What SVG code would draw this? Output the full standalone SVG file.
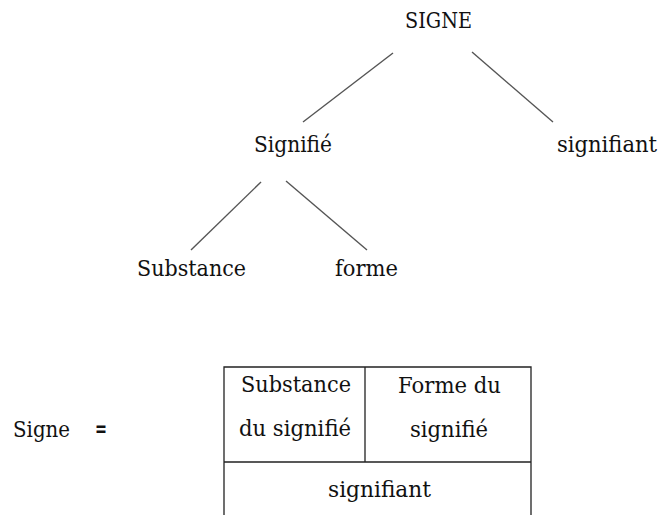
<svg xmlns="http://www.w3.org/2000/svg" width="660" height="515" viewBox="0 0 660 515">
<style>
text{font-family:"DejaVu Serif","Liberation Serif",serif;font-size:22px;fill:#111}
.eq{font-family:"DejaVu Sans","Liberation Sans",sans-serif;font-weight:bold}
.edge{stroke:#555;stroke-width:1.4;fill:none}
.tbl{stroke:#222;stroke-width:1.3;fill:none}
</style>
<rect width="660" height="515" fill="#fff"/>
<g id="connectors">
<line class="edge" x1="393" y1="53" x2="303" y2="122"/>
<line class="edge" x1="472" y1="52" x2="553" y2="122"/>
<line class="edge" x1="261" y1="182" x2="191" y2="250"/>
<line class="edge" x1="286" y1="181" x2="367" y2="250"/>
</g>
<g id="node-signe"><text x="405" y="28" textLength="67" lengthAdjust="spacingAndGlyphs">SIGNE</text></g>
<g id="node-signifie"><text x="254" y="152" textLength="78" lengthAdjust="spacingAndGlyphs">Signifié</text></g>
<g id="node-signifiant"><text x="557" y="152" textLength="100" lengthAdjust="spacingAndGlyphs">signifiant</text></g>
<g id="node-substance"><text x="137" y="276" textLength="109" lengthAdjust="spacingAndGlyphs">Substance</text></g>
<g id="node-forme"><text x="335" y="276" textLength="63" lengthAdjust="spacingAndGlyphs">forme</text></g>
<g id="equation">
<text x="13" y="437" textLength="57" lengthAdjust="spacingAndGlyphs">Signe</text>
<text class="eq" x="95" y="436" textLength="12" lengthAdjust="spacingAndGlyphs">=</text>
</g>
<g id="table">
<path class="tbl" d="M224,515 V367 H531 V515 M224,462 H531 M365,367 V462"/>
<text x="241" y="392" textLength="110" lengthAdjust="spacingAndGlyphs">Substance</text>
<text x="239" y="436" textLength="112" lengthAdjust="spacingAndGlyphs">du signifié</text>
<text x="398" y="393" textLength="103" lengthAdjust="spacingAndGlyphs">Forme du</text>
<text x="410" y="437" textLength="78" lengthAdjust="spacingAndGlyphs">signifié</text>
<text x="328" y="497" textLength="103" lengthAdjust="spacingAndGlyphs">signifiant</text>
</g>
</svg>
